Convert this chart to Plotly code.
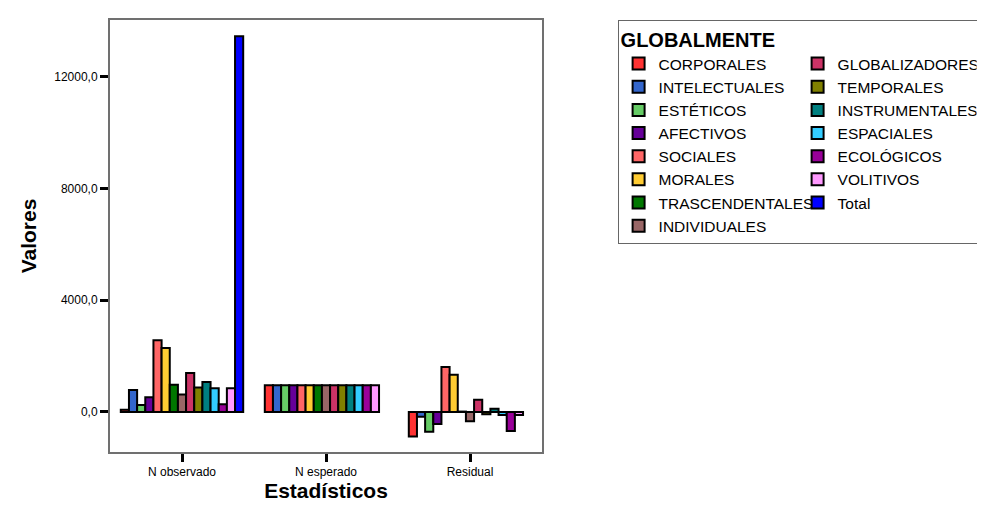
import plotly.graph_objects as go

categories = ["N observado", "N esperado", "Residual"]
series = ["CORPORALES", "INTELECTUALES", "ESTÉTICOS", "AFECTIVOS", "SOCIALES",
          "MORALES", "TRASCENDENTALES", "INDIVIDUALES", "GLOBALIZADORES",
          "TEMPORALES", "INSTRUMENTALES", "ESPACIALES", "ECOLÓGICOS", "VOLITIVOS"]
observed = [80, 790, 250, 530, 2570, 2290, 975, 630, 1395, 880, 1075, 850, 280, 850]
expected = [960.4, 960.4, 960.4, 960.4, 960.4, 960.4, 960.4,
            960.4, 960.4, 960.4, 960.4, 960.4, 960.4, 960.4]
residual = [-880.4, -170.4, -710.4, -430.4, 1609.6, 1329.6, 14.6,
            -330.4, 434.6, -80.4, 114.6, -110.4, -680.4, -110.4]
total_name = "Total"
total_values = [13445, None, None]
y_ticks = [0, 4000, 8000, 12000]

colors = ["#FF3333", "#3366CC", "#66CC66", "#660099", "#FF6666", "#FFCC33",
          "#007700", "#996666", "#CC3366", "#808000", "#008080", "#33CCFF",
          "#990099", "#FF99FF"]
total_color = "#0000FF"
# legend ranks so that a 2-column row-major legend reads column-major
legend_ranks = [1, 3, 5, 7, 9, 11, 13, 15, 2, 4, 6, 8, 10, 12]
total_rank = 14

fig = go.Figure()
for i, name in enumerate(series):
    fig.add_trace(go.Bar(
        x=categories, y=[observed[i], expected[i], residual[i]], name=name,
        marker=dict(color=colors[i], line=dict(color="black", width=2)),
        legendrank=legend_ranks[i]))
fig.add_trace(go.Bar(
    x=categories, y=total_values, name=total_name,
    marker=dict(color=total_color, line=dict(color="black", width=2)),
    legendrank=total_rank))

font_family = "Liberation Sans, Arial, sans-serif"
fig.update_layout(
    width=985, height=512,
    margin=dict(l=102, r=451, t=12, b=68, autoexpand=False),
    plot_bgcolor="white", paper_bgcolor="white",
    barmode="group", bargap=0.15, bargroupgap=0,
    separators=",.",
    font=dict(family=font_family, color="black"),
    showlegend=True,
    legend=dict(
        orientation="h", x=1.175, xanchor="left", y=1.0, yanchor="top",
        entrywidth=134, entrywidthmode="pixels",
        bordercolor="#666666", borderwidth=1, bgcolor="white",
        font=dict(size=15.5, family=font_family, color="black"),
        title=dict(text="<b>GLOBALMENTE</b>", side="top",
                   font=dict(size=20, family=font_family, color="black")),
        tracegroupgap=0,
    ),
)
fig.update_xaxes(
    showline=True, linecolor="#707070", linewidth=2, mirror=True,
    ticks="outside", ticklen=8, tickwidth=3, tickcolor="black",
    tickfont=dict(size=12, family=font_family, color="black"),
    title=dict(text="<b>Estadísticos</b>", font=dict(size=21, family=font_family), standoff=3),
    showgrid=False,
)
fig.update_yaxes(
    range=[-1432, 14030],
    showline=True, linecolor="#707070", linewidth=2, mirror=True,
    ticks="outside", ticklen=8, tickwidth=3, tickcolor="black",
    tickvals=y_ticks, tickformat=".1f",
    tickfont=dict(size=12, family=font_family, color="black"),
    title=dict(text="<b>Valores</b>", font=dict(size=21, family=font_family), standoff=12),
    showgrid=False, zeroline=False,
)

fig.write_html("out.html")
